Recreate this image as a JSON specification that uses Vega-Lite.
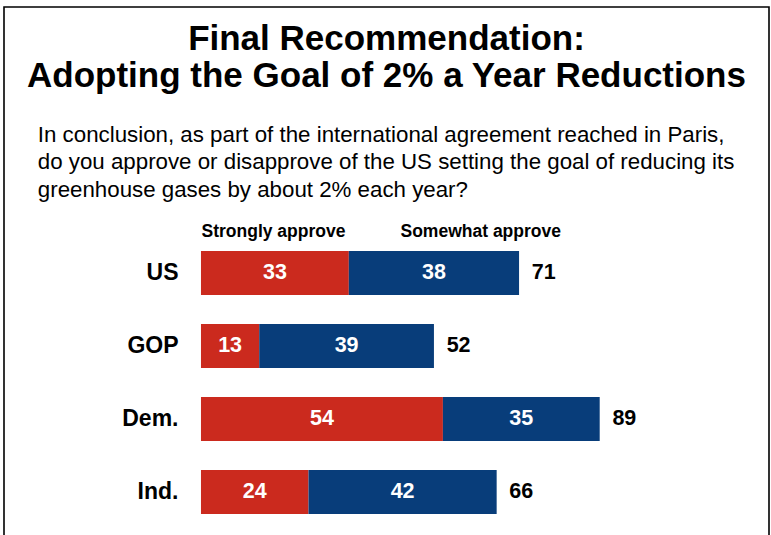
{
  "$schema": "https://vega.github.io/schema/vega-lite/v6.json",
  "autosize": {"type": "none"},
  "padding": {"left": 4, "top": 7, "right": 2, "bottom": -2},
  "width": 765,
  "height": 530,
  "background": "white",
  "title": {
    "text": ["Final Recommendation:", "Adopting the Goal of 2% a Year Reductions"],
    "anchor": "middle",
    "frame": "group",
    "offset": -87,
    "font": "Liberation Sans",
    "fontSize": 35,
    "fontWeight": "bold",
    "color": "#000000",
    "lineHeight": 37
  },
  "data": {
    "values": [
      {"group": "US", "level": "Strongly approve", "value": 33},
      {"group": "US", "level": "Somewhat approve", "value": 38},
      {"group": "GOP", "level": "Strongly approve", "value": 13},
      {"group": "GOP", "level": "Somewhat approve", "value": 39},
      {"group": "Dem.", "level": "Strongly approve", "value": 54},
      {"group": "Dem.", "level": "Somewhat approve", "value": 35},
      {"group": "Ind.", "level": "Strongly approve", "value": 24},
      {"group": "Ind.", "level": "Somewhat approve", "value": 42}
    ]
  },
  "transform": [
    {"stack": "value", "groupby": ["group"], "sort": [{"field": "level", "order": "descending"}], "as": ["x0", "x1"]},
    {"calculate": "(datum.x0 + datum.x1) / 2", "as": "mid"}
  ],
  "encoding": {
    "y": {
      "field": "group",
      "type": "nominal",
      "sort": ["US", "GOP", "Dem.", "Ind."],
      "scale": {"range": [229.5, 521.5], "paddingInner": 0.3973, "paddingOuter": 0.19865},
      "axis": {
        "title": null,
        "orient": "left",
        "offset": -174,
        "domain": false,
        "ticks": false,
        "labelPadding": 0,
        "labelFont": "Liberation Sans",
        "labelFontSize": 23,
        "labelFontWeight": "bold",
        "labelColor": "#000000",
        "labelAlign": "right",
        "labelBaseline": "middle"
      }
    }
  },
  "layer": [
    {
      "mark": {"type": "bar"},
      "encoding": {
        "x": {
          "field": "x0",
          "type": "quantitative",
          "scale": {"domain": [-43.97, 126.79], "nice": false, "zero": false},
          "axis": {
            "orient": "top",
            "domain": false,
            "ticks": false,
            "labels": false,
            "grid": false,
            "title": [
              "In conclusion, as part of the international agreement reached in Paris,",
              "do you approve or disapprove of the US setting the goal of reducing its",
              "greenhouse gases by about 2% each year?"
            ],
            "titleX": 33.3,
            "titleY": 134.7,
            "titleAlign": "left",
            "titleAnchor": "start",
            "titleBaseline": "alphabetic",
            "titleFont": "Liberation Sans",
            "titleFontSize": 22.3,
            "titleFontWeight": "normal",
            "titleColor": "#000000",
            "titleLineHeight": 27.3,
            "titleLimit": 760
          }
        },
        "x2": {"field": "x1"},
        "color": {
          "field": "level",
          "type": "nominal",
          "scale": {"domain": ["Strongly approve", "Somewhat approve"], "range": ["#cb2a1e", "#083d7a"]},
          "legend": {
            "title": null,
            "orient": "none",
            "direction": "horizontal",
            "legendX": 180,
            "legendY": 216,
            "padding": 0,
            "symbolSize": 0,
            "symbolStrokeWidth": 0,
            "symbolOpacity": 0,
            "labelOffset": 0,
            "columnPadding": 37,
            "labelLimit": 300,
            "labelFont": "Liberation Sans",
            "labelFontSize": 17.5,
            "labelFontWeight": "bold",
            "labelColor": "#000000",
            "labelBaseline": "middle"
          }
        }
      }
    },
    {
      "mark": {"type": "text", "color": "#ffffff", "font": "Liberation Sans", "fontSize": 21.5, "fontWeight": "bold", "align": "center", "baseline": "middle"},
      "encoding": {
        "x": {"field": "mid", "type": "quantitative"},
        "text": {"field": "value", "type": "quantitative"}
      }
    },
    {
      "transform": [{"aggregate": [{"op": "sum", "field": "value", "as": "total"}], "groupby": ["group"]}],
      "mark": {"type": "text", "color": "#000000", "font": "Liberation Sans", "fontSize": 21.5, "fontWeight": "bold", "align": "left", "baseline": "middle", "dx": 12.7},
      "encoding": {
        "x": {"field": "total", "type": "quantitative"},
        "text": {"field": "total", "type": "quantitative"}
      }
    }
  ],
  "config": {
    "view": {"stroke": "#000000", "strokeWidth": 1.6},
    "font": "Liberation Sans"
  }
}
